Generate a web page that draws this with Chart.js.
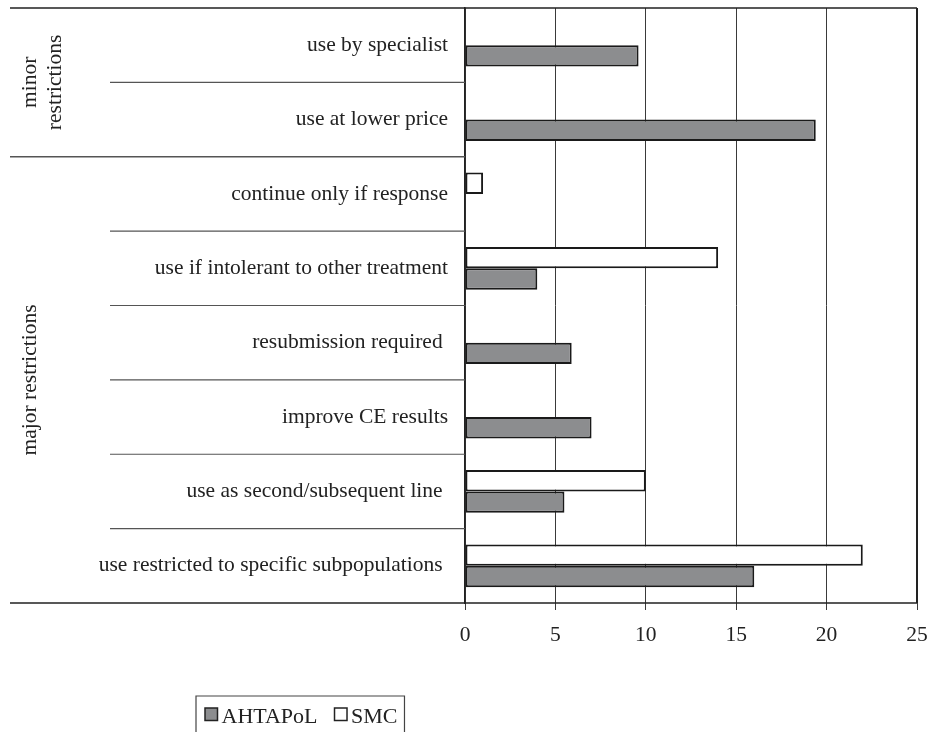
<!DOCTYPE html>
<html>
<head>
<meta charset="utf-8">
<script src="https://cdn.jsdelivr.net/npm/chart.js@4/dist/chart.umd.min.js"></script>
<style>
  html, body { margin: 0; padding: 0; background: #fff; }
  #wrap { width: 930px; height: 732px; position: relative; }
</style>
</head>
<body>
<div id="wrap"><canvas id="chart" width="930" height="732"></canvas></div>
<script>
// categories top to bottom (trailing spaces are in the source labels)
const categories = [
  'use by specialist',
  'use at lower price',
  'continue only if response',
  'use if intolerant to other treatment',
  'resubmission required ',
  'improve CE results',
  'use as second/subsequent line ',
  'use restricted to specific subpopulations ',
];
const ahtapolValues = [9.6, 19.4, null, 4.0, 5.9, 7.0, 5.5, 16.0];
const smcValues = [null, null, 1.0, 14.0, null, null, 10.0, 22.0];
const xTicks = [0, 5, 10, 15, 20, 25];
const groupNames = [['minor', 'restrictions'], ['major restrictions']];
const groupRanges = [[0, 1], [2, 7]];

const FONT = '"Liberation Serif", "Times New Roman", serif';
const INK = '#222';
const GRAY = '#8c8d8f';

const decorations = {
  id: 'decorations',
  beforeDatasetsDraw(chart) {
    const { ctx, chartArea } = chart;
    const y = chart.scales.y;
    ctx.save();
    // row separators in the label column
    for (let i = 0; i < categories.length - 1; i++) {
      const sep = (y.getPixelForValue(i) + y.getPixelForValue(i + 1)) / 2;
      const groupEdge = groupRanges.some(r => r[1] === i);
      ctx.strokeStyle = '#555';
      ctx.lineWidth = groupEdge ? 1.5 : 1.2;
      ctx.beginPath();
      ctx.moveTo(groupEdge ? 10 : 110, sep);
      ctx.lineTo(chartArea.left, sep);
      ctx.stroke();
    }
    ctx.restore();
  },
  afterDraw(chart) {
    const { ctx, chartArea } = chart;
    const y = chart.scales.y;
    const step = y.getPixelForValue(1) - y.getPixelForValue(0);
    ctx.save();
    ctx.strokeStyle = INK;
    ctx.lineWidth = 1.5;
    ctx.beginPath();
    ctx.moveTo(10, chartArea.top);
    ctx.lineTo(chartArea.right, chartArea.top);
    ctx.moveTo(10, chartArea.bottom);
    ctx.lineTo(chartArea.right, chartArea.bottom);
    ctx.stroke();
    ctx.lineWidth = 2;
    ctx.beginPath();
    ctx.moveTo(chartArea.right, chartArea.top);
    ctx.lineTo(chartArea.right, chartArea.bottom);
    ctx.stroke();

    // group labels, rotated
    ctx.fillStyle = INK;
    ctx.font = '21.5px ' + FONT;
    ctx.textAlign = 'center';
    ctx.textBaseline = 'middle';
    groupNames.forEach((lines, g) => {
      const top = y.getPixelForValue(groupRanges[g][0]) - step / 2;
      const bottom = y.getPixelForValue(groupRanges[g][1]) + step / 2;
      const cy = (top + bottom) / 2;
      lines.forEach((text, k) => {
        const cx = 30 + k * 25;
        ctx.save();
        ctx.translate(cx, cy);
        ctx.rotate(-Math.PI / 2);
        ctx.fillText(text, 0, 0);
        ctx.restore();
      });
    });

    // legend box, in the source order AHTAPoL then SMC
    ctx.font = '22px ' + FONT;
    ctx.textAlign = 'left';
    ctx.textBaseline = 'alphabetic';
    const items = chart.data.datasets.slice().reverse();
    const boxLeft = 196, boxTop = 696, sq = 12.5;
    let x = boxLeft + 9;
    items.forEach((ds, i) => {
      ctx.fillStyle = ds.backgroundColor;
      ctx.fillRect(x, 708, sq, sq);
      ctx.strokeStyle = INK;
      ctx.lineWidth = 1.5;
      ctx.strokeRect(x, 708, sq, sq);
      x += sq + 4;
      ctx.fillStyle = INK;
      ctx.fillText(ds.label, x, 722.5);
      x += ctx.measureText(ds.label).width + (i < items.length - 1 ? 17 : 7);
    });
    ctx.strokeStyle = '#444';
    ctx.lineWidth = 1.2;
    ctx.beginPath();
    ctx.moveTo(boxLeft, 740);
    ctx.lineTo(boxLeft, boxTop);
    ctx.lineTo(x, boxTop);
    ctx.lineTo(x, 740);
    ctx.stroke();
    ctx.restore();
  },
};

new Chart(document.getElementById('chart'), {
  type: 'bar',
  data: {
    labels: categories,
    datasets: [
      {
        label: 'SMC',
        data: smcValues,
        backgroundColor: '#ffffff',
        borderColor: '#1a1a1a',
        borderWidth: 2,
        borderSkipped: false,
      },
      {
        label: 'AHTAPoL',
        data: ahtapolValues,
        backgroundColor: GRAY,
        borderColor: '#1a1a1a',
        borderWidth: 2,
        borderSkipped: false,
      },
    ],
  },
  options: {
    indexAxis: 'y',
    responsive: false,
    animation: false,
    categoryPercentage: 0.575,
    barPercentage: 1,
    layout: { padding: { top: 8, right: 13, left: 0, bottom: 0 } },
    plugins: { legend: { display: false }, tooltip: { enabled: false } },
    scales: {
      x: {
        min: 0,
        max: 25,
        afterBuildTicks: scale => { scale.ticks = xTicks.map(v => ({ value: v })); },
        afterFit: scale => {
          scale.height = 129;
          scale.paddingLeft = 0;
          scale.paddingRight = 0;
        },
        grid: { color: '#3a3a3a', lineWidth: 1, tickLength: 7, drawTicks: true },
        border: { display: false },
        ticks: { color: INK, font: { family: FONT, size: 21.5 }, padding: 12, maxRotation: 0 },
      },
      y: {
        afterFit: scale => {
          scale.width = 465;
          scale.paddingTop = 0;
          scale.paddingBottom = 0;
        },
        grid: { display: false, drawTicks: false },
        border: { display: true, color: INK, width: 1.5 },
        ticks: { color: INK, font: { family: FONT, size: 21.5 }, padding: 17, autoSkip: false },
      },
    },
  },
  plugins: [decorations],
});
</script>
</body>
</html>
